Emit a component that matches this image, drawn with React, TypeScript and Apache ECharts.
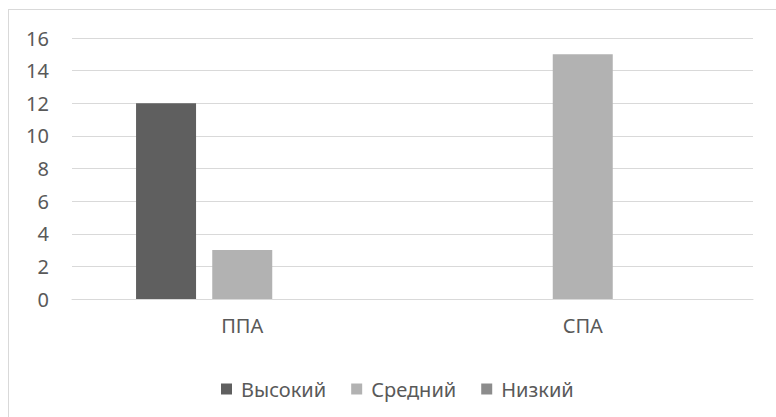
import React, { useEffect, useRef } from "react";
import * as echarts from "echarts";

const categories = ["ППА", "СПА"];
const seriesNames = ["Высокий", "Средний", "Низкий"];
const highValues = [12, 0];
const midValues = [3, 15];
const lowValues = [0, 0];
const colors = ["#5f5f5f", "#b2b2b2", "#8c8c8c"];

export default function App() {
  const ref = useRef<HTMLDivElement>(null);
  useEffect(() => {
    if (!ref.current) return;
    const chart = echarts.init(ref.current, undefined, { renderer: "svg" });
    const font = "'Noto Sans', sans-serif";
    const values = [highValues, midValues, lowValues];
    chart.setOption({
      animation: false,
      textStyle: { fontFamily: font },
      grid: { left: 63, right: 23, top: 28, bottom: 119, containLabel: false },
      legend: {
        data: seriesNames,
        left: 207,
        top: 364,
        itemWidth: 11,
        itemHeight: 11,
        itemGap: 25,
        icon: "rect",
        textStyle: { color: "#595959", fontSize: 20, fontFamily: font, lineHeight: 20, padding: [0, 0, 0, 4] },
      },
      xAxis: {
        type: "category",
        data: categories,
        axisTick: { show: false },
        axisLine: { lineStyle: { color: "#d9d9d9", width: 1 } },
        axisLabel: { color: "#595959", fontSize: 20, fontFamily: font, margin: 16 },
      },
      yAxis: {
        type: "value",
        min: 0,
        max: 16,
        interval: 2,
        axisLine: { show: false },
        axisTick: { show: false },
        splitLine: { lineStyle: { color: "#d9d9d9", width: 1 } },
        axisLabel: { color: "#595959", fontSize: 20, fontFamily: font, margin: 23 },
      },
      series: seriesNames.map((name, i) => ({
        name,
        type: "bar",
        data: values[i],
        barWidth: 60,
        barGap: "27%",
        itemStyle: { color: colors[i] },
      })),
    });
    return () => chart.dispose();
  }, []);
  return (
    <div
      style={{
        position: "absolute",
        left: 8,
        top: 9,
        width: 780,
        height: 420,
        borderLeft: "1px solid #d9d9d9",
        borderTop: "1px solid #d9d9d9",
        boxSizing: "border-box",
      }}
    >
      <div ref={ref} style={{ width: 767, height: 408 }} />
    </div>
  );
}
